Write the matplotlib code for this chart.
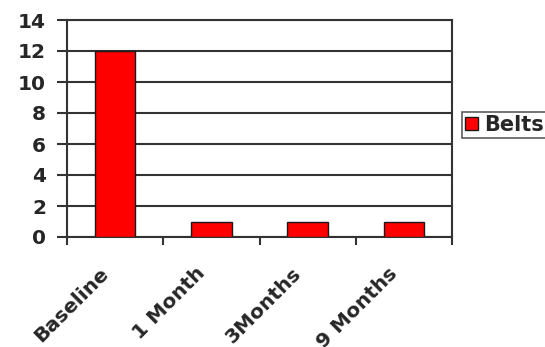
import matplotlib
matplotlib.use("Agg")
import matplotlib.pyplot as plt
import matplotlib.transforms as mtransforms
import numpy as np

categories = ["Baseline", "1 Month", "3Months", "9 Months"]
belts = [12, 1, 1, 1]
series_name = "Belts"
y_ticks = [0, 2, 4, 6, 8, 10, 12, 14]

plt.rcParams["font.family"] = ["DejaVu Sans"]
plt.rcParams["font.weight"] = "bold"

TEXT = "#262626"
LINE = "#333333"
FS = 14.5

fig = plt.figure(figsize=(5.45, 3.47), dpi=100)
ax = fig.add_axes([67 / 545, 1 - 237 / 347, (452 - 67) / 545, 217 / 347])

x = np.arange(len(categories))
ax.bar(x, belts, width=0.42, color="#ff0000", edgecolor="#1a1a1a",
       linewidth=1.0, label=series_name, zorder=3)

ax.set_xlim(-0.5, len(categories) - 0.5)
ax.set_ylim(0, 14)
ax.set_yticks(y_ticks)
ax.set_yticklabels([str(v) for v in y_ticks], fontsize=FS, fontweight="bold",
                   color=TEXT)
for v in y_ticks:
    ax.axhline(v, color=LINE, linewidth=1.5, zorder=1)

# category boundaries carry the tick marks, centres carry the labels
ax.set_xticks(np.arange(len(categories) + 1) - 0.5)
ax.set_xticklabels([])
ax.set_xticks(x, minor=True)
ax.set_xticklabels(categories, minor=True, rotation=45, ha="right",
                   va="center", rotation_mode="anchor", fontsize=FS,
                   fontweight="bold", color=TEXT)
ax.tick_params(axis="x", which="minor", length=0, pad=24)
ax.tick_params(axis="x", which="major", length=6, width=1.5, color=LINE)
ax.tick_params(axis="y", length=7, width=1.5, color=LINE, pad=8)

offset = mtransforms.ScaledTranslation(-9 / 100, 0, fig.dpi_scale_trans)
for lab in ax.get_xticklabels(minor=True):
    lab.set_transform(lab.get_transform() + offset)

for side in ["left", "bottom", "right", "top"]:
    ax.spines[side].set_color(LINE)
    ax.spines[side].set_linewidth(1.5)

leg = ax.legend(loc="center left", bbox_to_anchor=(1.026, 0.516),
                prop={"size": 15, "weight": "bold"}, frameon=True,
                fancybox=False, edgecolor=LINE, handlelength=0.62,
                handleheight=0.62, handletextpad=0.3, borderpad=0.15,
                borderaxespad=0)
leg.get_frame().set_linewidth(1.2)
for t in leg.get_texts():
    t.set_color(TEXT)

fig.savefig("out.png", dpi=100, facecolor="white")
